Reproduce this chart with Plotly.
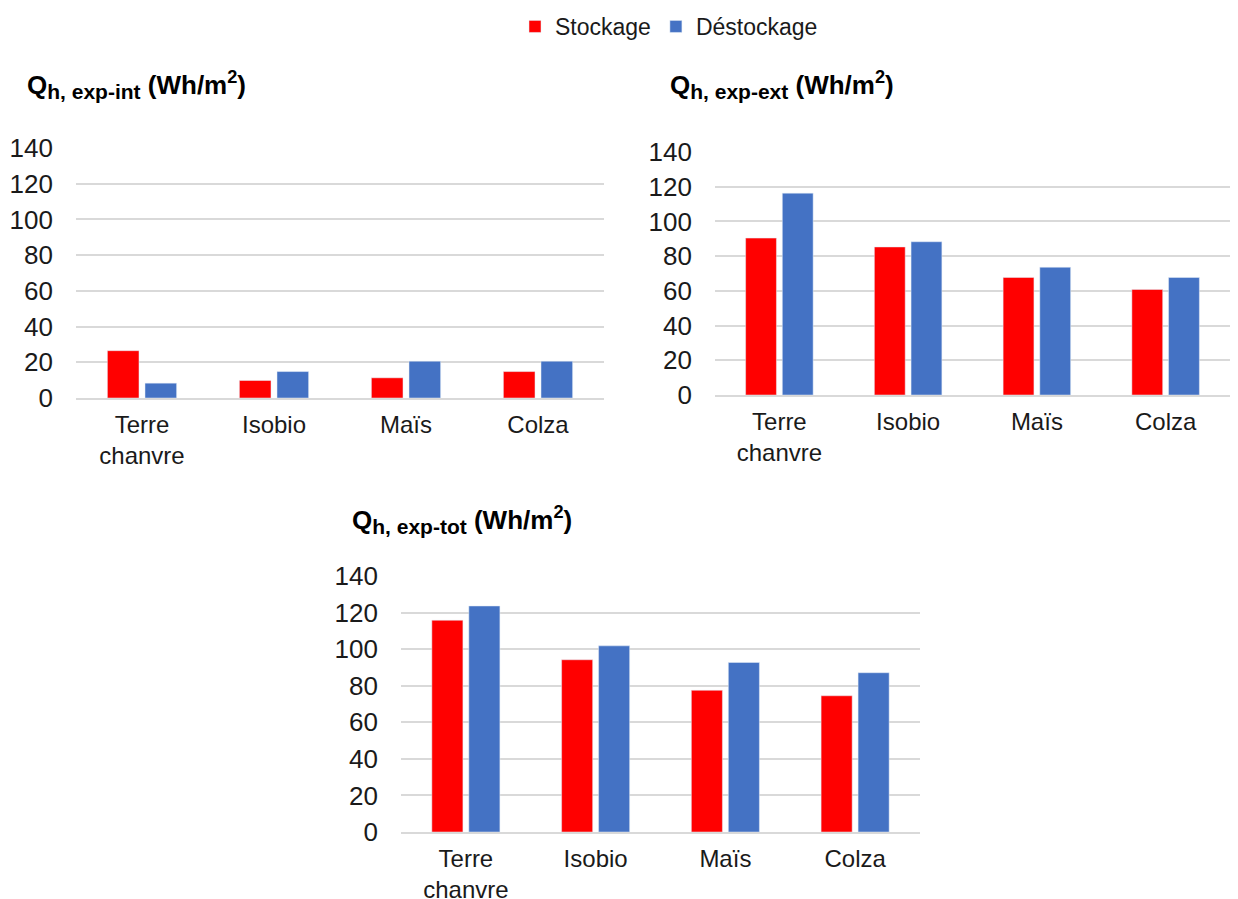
import plotly.graph_objects as go

categories = ["Terre<br>chanvre", "Isobio", "Maïs", "Colza"]
series_names = ["Stockage", "Déstockage"]
colors = ["#FF0000", "#4472C4"]

int_stockage = [26.5, 9.8, 11.3, 14.8]
int_destockage = [8.3, 14.8, 20.6, 20.6]
ext_stockage = [90.4, 85.3, 67.7, 60.8]
ext_destockage = [116.3, 88.3, 73.6, 67.7]
tot_stockage = [115.8, 94.2, 77.5, 74.5]
tot_destockage = [123.6, 101.8, 92.7, 87.1]

y_ticks = [0, 20, 40, 60, 80, 100, 120, 140]

W, H = 1238, 899
FONT = "Liberation Sans, Arial, sans-serif"
TXT = "#1a1a1a"

def xd(a, b):
    return [a / W, b / W]

def yd(top, bottom):
    return [1 - bottom / H, 1 - top / H]

def px_x(p):
    return p / W

def px_y(p):
    return 1 - p / H

fig = go.Figure()

panels = [
    ("x", "y", int_stockage, int_destockage, True),
    ("x2", "y2", ext_stockage, ext_destockage, False),
    ("x3", "y3", tot_stockage, tot_destockage, False),
]
for xa, ya, s, d, show in panels:
    fig.add_trace(go.Bar(x=categories, y=s, name=series_names[0], marker_color=colors[0],
                         xaxis=xa, yaxis=ya, showlegend=show, legendgroup="s"))
    fig.add_trace(go.Bar(x=categories, y=d, name=series_names[1], marker_color=colors[1],
                         xaxis=xa, yaxis=ya, showlegend=show, legendgroup="d"))

tickfont = dict(family=FONT, size=24, color=TXT)
ytickfont = dict(family=FONT, size=26, color=TXT)

def xaxis(dom, anchor):
    return dict(domain=dom, anchor=anchor, tickfont=tickfont, showgrid=False,
                showline=True, linecolor="#D9D9D9", linewidth=2, ticks="",
                ticklabelstandoff=4, fixedrange=True)

def yaxis(dom, anchor):
    return dict(domain=dom, anchor=anchor, range=[0, 140], tickvals=y_ticks, tickfont=ytickfont,
                showgrid=True, gridcolor="#D9D9D9", gridwidth=2, zeroline=False,
                showline=False, ticks="", ticklabelstandoff=22, fixedrange=True)

fig.update_layout(
    width=W, height=H,
    margin=dict(l=0, r=0, t=0, b=0, autoexpand=False),
    plot_bgcolor="white", paper_bgcolor="white",
    barmode="group", bargap=0.43, bargroupgap=0.16,
    xaxis=xaxis(xd(76, 604), "y"),
    yaxis=yaxis(yd(148, 398), "x"),
    xaxis2=xaxis(xd(715, 1230), "y2"),
    yaxis2=yaxis(yd(152, 395), "x2"),
    xaxis3=xaxis(xd(401, 920), "y3"),
    yaxis3=yaxis(yd(576, 832), "x3"),
    legend=dict(orientation="h", x=px_x(515), y=px_y(5), xanchor="left", yanchor="top",
                font=dict(family=FONT, size=23, color=TXT),
                itemwidth=30, tracegroupgap=0, bgcolor="rgba(0,0,0,0)"),
    font=dict(family=FONT),
)

titles = [
    ("h, exp-int", 25, 85),
    ("h, exp-ext", 668, 85),
    ("h, exp-tot", 350, 520),
]
for sub, px, py in titles:
    text = ("<b>Q<sub><span style='font-size:21px'>" + sub +
            "</span></sub> (Wh/m<sup>2</sup>)</b>")
    fig.add_annotation(text=text, x=px_x(px), y=px_y(py), xref="paper", yref="paper",
                       xanchor="left", yanchor="middle", showarrow=False,
                       font=dict(family=FONT, size=26, color="#000000"))

fig.write_html("out.html",
               config={"displayModeBar": False},
               post_script="document.body.style.margin='0px';document.body.style.overflow='hidden';")
